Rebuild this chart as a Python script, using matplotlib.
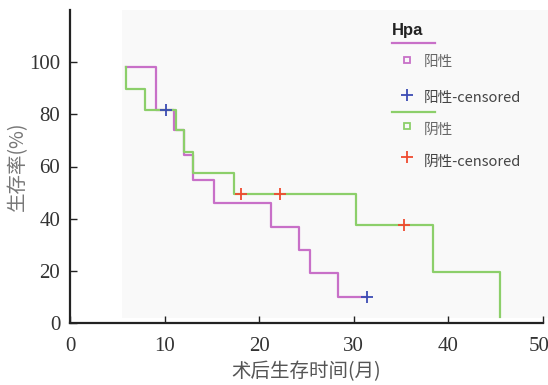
import matplotlib.pyplot as plt
from matplotlib.lines import Line2D
from matplotlib.patches import Rectangle
from matplotlib.transforms import ScaledTranslation

# 阳性 (positive) curve: step times and survival (%)
pos_t = [5.9, 9.1, 11.0, 12.0, 13.0, 15.2, 21.2, 24.2, 25.4, 28.3, 31.4]
pos_s = [98, 81.6, 74, 64.4, 55, 45.9, 36.9, 28, 19, 9.8, 9.8]
pos_cens_t = [10.1, 31.4]
pos_cens_s = [81.6, 9.8]

# 阴性 (negative) curve
neg_t = [5.9, 5.9, 7.9, 11.2, 12.0, 13.0, 17.3, 30.2, 38.4, 45.5, 45.5]
neg_s = [98, 89.9, 81.6, 74, 65.6, 57.6, 49.3, 37.5, 19.4, 2.4, 2.4]
neg_cens_t = [18.1, 22.2, 35.3]
neg_cens_s = [49.4, 49.4, 37.5]

xticks = [0, 10, 20, 30, 40, 50]
yticks = [0, 20, 40, 60, 80, 100]

c_pos = '#c870c8'
c_neg = '#8ccf6a'
c_pos_c = '#3c4cb4'
c_neg_c = '#f04a30'

W, H = 548, 385
fig = plt.figure(figsize=(W / 100, H / 100), dpi=100)

def fx(px):
    return px / W

def fy(py):
    return 1 - py / H

# faint grey panel behind the curves and legend
fig.patches.append(Rectangle((fx(122), fy(318)), fx(548) - fx(122), fy(10) - fy(318),
                             transform=fig.transFigure, facecolor='#f9f9f9',
                             edgecolor='none', zorder=-5))

ax = fig.add_axes([fx(70), fy(323), fx(543) - fx(70), fy(10) - fy(323)])
ax.set_facecolor('none')

ax.step(pos_t, pos_s, where='post', color=c_pos, lw=1.6, zorder=3)
ax.step(neg_t, neg_s, where='post', color=c_neg, lw=1.6, zorder=4)
ax.plot(pos_cens_t, pos_cens_s, '+', color=c_pos_c, ms=8, mew=1.3, zorder=5)
ax.plot(neg_cens_t, neg_cens_s, '+', color=c_neg_c, ms=8, mew=1.3, zorder=5)

ax.set_xlim(0, 50)
ax.set_ylim(0, 120)
ax.set_xticks(xticks)
ax.set_yticks(yticks)
for s in ['top', 'right']:
    ax.spines[s].set_visible(False)
for s in ['left', 'bottom']:
    ax.spines[s].set_color('#222222')
    ax.spines[s].set_linewidth(1.6)
ax.tick_params(direction='in', length=5, width=1, color='#222222',
               labelcolor='#333333', labelsize=15)
ax.tick_params(axis='x', pad=10)
ax.tick_params(axis='y', pad=7)
for lab in ax.get_xticklabels() + ax.get_yticklabels():
    lab.set_family('Liberation Serif')
last = ax.get_xticklabels()[-1]
last.set_transform(last.get_transform() + ScaledTranslation(-4 / 100, 0, fig.dpi_scale_trans))

ax.set_xlabel('术后生存时间(月)', family=['Noto Sans CJK SC', 'DejaVu Sans'],
              fontsize=14, color='#555555', weight='light', labelpad=4)
ax.set_ylabel('生存率(%)', family=['Noto Sans CJK SC', 'DejaVu Sans'],
              fontsize=14, color='#777777', weight='light', labelpad=1)

# legend drawn by hand, SPSS style
cjk = ['Noto Sans CJK SC', 'DejaVu Sans']
fig.text(fx(392), fy(30), 'Hpa', family='Liberation Sans', weight='bold',
         fontsize=12, color='#222222', va='center')
fig.add_artist(Line2D([fx(392), fx(435)], [fy(43), fy(43)], color=c_pos, lw=1.6,
                      transform=fig.transFigure))
fig.add_artist(Line2D([fx(407)], [fy(60)], marker='s', ms=5, mfc='none', mec=c_pos,
                      mew=1.3, transform=fig.transFigure))
fig.text(fx(424), fy(62), '阳性', family=cjk, fontsize=10.5, color='#666666', va='center')
fig.add_artist(Line2D([fx(407)], [fy(95)], marker='+', ms=8, mec=c_pos_c, mew=1.3,
                      transform=fig.transFigure))
fig.text(fx(424), fy(98), '阳性-censored', family=cjk, fontsize=10.5, color='#444444',
         va='center')
fig.add_artist(Line2D([fx(392), fx(435)], [fy(112), fy(112)], color=c_neg, lw=1.6,
                      transform=fig.transFigure))
fig.add_artist(Line2D([fx(407)], [fy(126)], marker='s', ms=5, mfc='none', mec=c_neg,
                      mew=1.3, transform=fig.transFigure))
fig.text(fx(424), fy(130), '阴性', family=cjk, fontsize=10.5, color='#666666', va='center')
fig.add_artist(Line2D([fx(407)], [fy(157)], marker='+', ms=8, mec=c_neg_c, mew=1.3,
                      transform=fig.transFigure))
fig.text(fx(424), fy(162), '阴性-censored', family=cjk, fontsize=10.5, color='#444444',
         va='center')

fig.savefig('out.png', dpi=100)
